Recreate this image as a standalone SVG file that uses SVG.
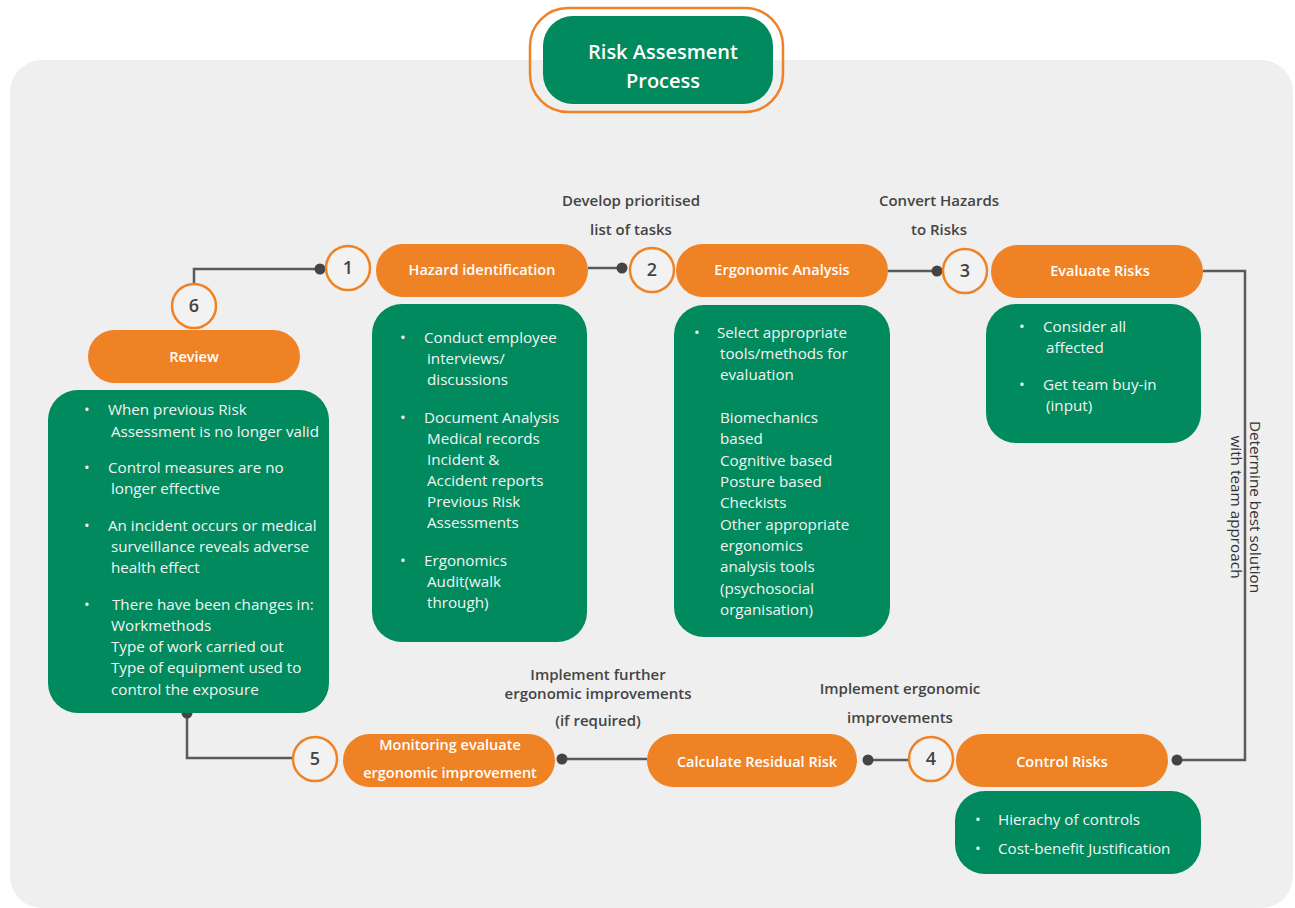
<svg xmlns="http://www.w3.org/2000/svg" width="1295" height="908" viewBox="0 0 1295 908">
<style>
.bg{fill:#efefef}
.pill{fill:#f08226}
.body{fill:#008a5d}
.num{fill:#f2f2f2;stroke:#f08226;stroke-width:2.5}
.numt{font-family:"Open Sans","Noto Sans",sans-serif;font-weight:600;font-size:18px;fill:#444;text-anchor:middle}
.pt{font-family:"Open Sans","Noto Sans",sans-serif;font-weight:600;font-size:14.5px;fill:#fff;text-anchor:middle}
.bt{font-family:"Open Sans","Noto Sans",sans-serif;font-size:15.2px;fill:#f4f4f4}
.lbl{font-family:"Open Sans","Noto Sans",sans-serif;font-weight:600;font-size:15px;fill:#444;text-anchor:middle}
.vt{font-family:"Open Sans","Noto Sans",sans-serif;font-size:15.3px;fill:#333;text-anchor:middle}
.conn{fill:none;stroke:#5a5a5a;stroke-width:2.5}
.dot{fill:#444}
</style>
<rect class="bg" x="10" y="60" width="1283" height="848" rx="32"/>

<g id="title">
<rect x="530" y="8" width="253" height="104" rx="38" fill="none" stroke="#f08226" stroke-width="2.5"/>
<rect x="543" y="16" width="230" height="88" rx="30" class="body"/>
<text x="663" y="59" font-family="'Open Sans','Noto Sans',sans-serif" font-weight="600" font-size="20" fill="#fff" text-anchor="middle">Risk Assesment</text>
<text x="663" y="88" font-family="'Open Sans','Noto Sans',sans-serif" font-weight="600" font-size="20" fill="#fff" text-anchor="middle">Process</text>
</g>

<g id="connectors">
<polyline class="conn" points="194,284 194,269 320,269"/>
<circle class="dot" cx="320" cy="269" r="5.5"/>
<line class="conn" x1="588" y1="268" x2="622" y2="268"/>
<circle class="dot" cx="622" cy="268" r="5.5"/>
<line class="conn" x1="888" y1="271" x2="937" y2="271"/>
<circle class="dot" cx="937" cy="271" r="5.5"/>
<polyline class="conn" points="1203,271 1245,271 1245,760 1177,760"/>
<circle class="dot" cx="1177" cy="760" r="5.5"/>
<line class="conn" x1="868" y1="760" x2="909" y2="760"/>
<circle class="dot" cx="868" cy="760" r="5.5"/>
<line class="conn" x1="562" y1="759" x2="647" y2="759"/>
<circle class="dot" cx="562" cy="759" r="5.5"/>
<polyline class="conn" points="293,758 187,758 187,713"/>
<circle class="dot" cx="187" cy="713" r="5.5"/>
</g>

<g id="labels">
<text class="lbl" x="631" y="206">Develop prioritised</text>
<text class="lbl" x="631" y="235">list of tasks</text>
<text class="lbl" x="939" y="206">Convert Hazards</text>
<text class="lbl" x="939" y="235">to Risks</text>
<text class="lbl" x="598" y="680">Implement further</text>
<text class="lbl" x="598" y="699">ergonomic improvements</text>
<text class="lbl" x="598" y="726">(if required)</text>
<text class="lbl" x="900" y="694">Implement ergonomic</text>
<text class="lbl" x="900" y="723">improvements</text>
<g transform="translate(1245,507) rotate(90)">
<text class="vt" x="0" y="-5">Determine best solution</text>
<text class="vt" x="0" y="14">with team approach</text>
</g>
</g>

<g id="node1">
<circle class="num" cx="348" cy="268" r="22"/>
<text class="numt" x="348" y="274">1</text>
<rect class="pill" x="376" y="244" width="212" height="53" rx="26.5"/>
<text class="pt" x="482" y="275">Hazard identification</text>
<rect class="body" x="372" y="304" width="215" height="338" rx="30"/>
<text class="bt"><tspan x="400" y="343">•</tspan><tspan x="424" y="343">Conduct employee</tspan><tspan x="427" y="364">interviews/</tspan><tspan x="427" y="385">discussions</tspan>
<tspan x="400" y="423">•</tspan><tspan x="424" y="423">Document Analysis</tspan><tspan x="427" y="444">Medical records</tspan><tspan x="427" y="465">Incident &amp;</tspan><tspan x="427" y="486">Accident reports</tspan><tspan x="427" y="507">Previous Risk</tspan><tspan x="427" y="528">Assessments</tspan>
<tspan x="400" y="566">•</tspan><tspan x="424" y="566">Ergonomics</tspan><tspan x="427" y="587">Audit(walk</tspan><tspan x="427" y="608">through)</tspan></text>
</g>

<g id="node2">
<circle class="num" cx="652" cy="270" r="22"/>
<text class="numt" x="652" y="276">2</text>
<rect class="pill" x="676" y="244" width="212" height="53" rx="26.5"/>
<text class="pt" x="782" y="275">Ergonomic Analysis</text>
<rect class="body" x="674" y="305" width="216" height="332" rx="30"/>
<text class="bt"><tspan x="694" y="338">•</tspan><tspan x="717" y="338">Select appropriate</tspan><tspan x="720" y="359">tools/methods for</tspan><tspan x="720" y="380">evaluation</tspan>
<tspan x="720" y="423">Biomechanics</tspan><tspan x="720" y="444">based</tspan><tspan x="720" y="466">Cognitive based</tspan><tspan x="720" y="487">Posture based</tspan><tspan x="720" y="508">Checkists</tspan><tspan x="720" y="530">Other appropriate</tspan><tspan x="720" y="551">ergonomics</tspan><tspan x="720" y="572">analysis tools</tspan><tspan x="720" y="594">(psychosocial</tspan><tspan x="720" y="615">organisation)</tspan></text>
</g>

<g id="node3">
<circle class="num" cx="965" cy="271" r="22"/>
<text class="numt" x="965" y="277">3</text>
<rect class="pill" x="991" y="245" width="212" height="53" rx="26.5"/>
<text class="pt" x="1100" y="276">Evaluate Risks</text>
<rect class="body" x="986" y="304" width="215" height="139" rx="30"/>
<text class="bt"><tspan x="1019" y="332">•</tspan><tspan x="1043" y="332">Consider all</tspan><tspan x="1046" y="353">affected</tspan>
<tspan x="1019" y="390">•</tspan><tspan x="1043" y="390">Get team buy-in</tspan><tspan x="1046" y="411">(input)</tspan></text>
</g>

<g id="node4">
<circle class="num" cx="931" cy="759" r="22"/>
<text class="numt" x="931" y="765">4</text>
<rect class="pill" x="956" y="734" width="212" height="53" rx="26.5"/>
<text class="pt" x="1062" y="767">Control Risks</text>
<rect class="body" x="955" y="791" width="246" height="83" rx="30"/>
<text class="bt"><tspan x="975" y="825">•</tspan><tspan x="998" y="825">Hierachy of controls</tspan>
<tspan x="975" y="854">•</tspan><tspan x="998" y="854">Cost-benefit Justification</tspan></text>
</g>

<g id="residual">
<rect class="pill" x="647" y="734" width="210" height="53" rx="26.5"/>
<text class="pt" x="757" y="767">Calculate Residual Risk</text>
</g>

<g id="node5">
<circle class="num" cx="315" cy="759" r="22"/>
<text class="numt" x="315" y="765">5</text>
<rect class="pill" x="343" y="734" width="212" height="53" rx="26.5"/>
<text class="pt" x="450" y="750">Monitoring evaluate</text>
<text class="pt" x="450" y="778">ergonomic improvement</text>
</g>

<g id="node6">
<circle class="num" cx="194" cy="306" r="22"/>
<text class="numt" x="194" y="312">6</text>
<rect class="pill" x="88" y="330" width="212" height="53" rx="26.5"/>
<text class="pt" x="194" y="362">Review</text>
<rect class="body" x="48" y="390" width="281" height="323" rx="30"/>
<text class="bt"><tspan x="84" y="415">•</tspan><tspan x="108" y="415">When previous Risk</tspan><tspan x="111" y="437">Assessment is no longer valid</tspan>
<tspan x="84" y="473">•</tspan><tspan x="108" y="473">Control measures are no</tspan><tspan x="111" y="494">longer effective</tspan>
<tspan x="84" y="531">•</tspan><tspan x="108" y="531">An incident occurs or medical</tspan><tspan x="111" y="552">surveillance reveals adverse</tspan><tspan x="111" y="573">health effect</tspan>
<tspan x="84" y="610">•</tspan><tspan x="112" y="610">There have been changes in:</tspan><tspan x="111" y="631">Workmethods</tspan><tspan x="111" y="652">Type of work carried out</tspan><tspan x="111" y="673">Type of equipment used to</tspan><tspan x="111" y="695">control the exposure</tspan></text>
</g>
</svg>
